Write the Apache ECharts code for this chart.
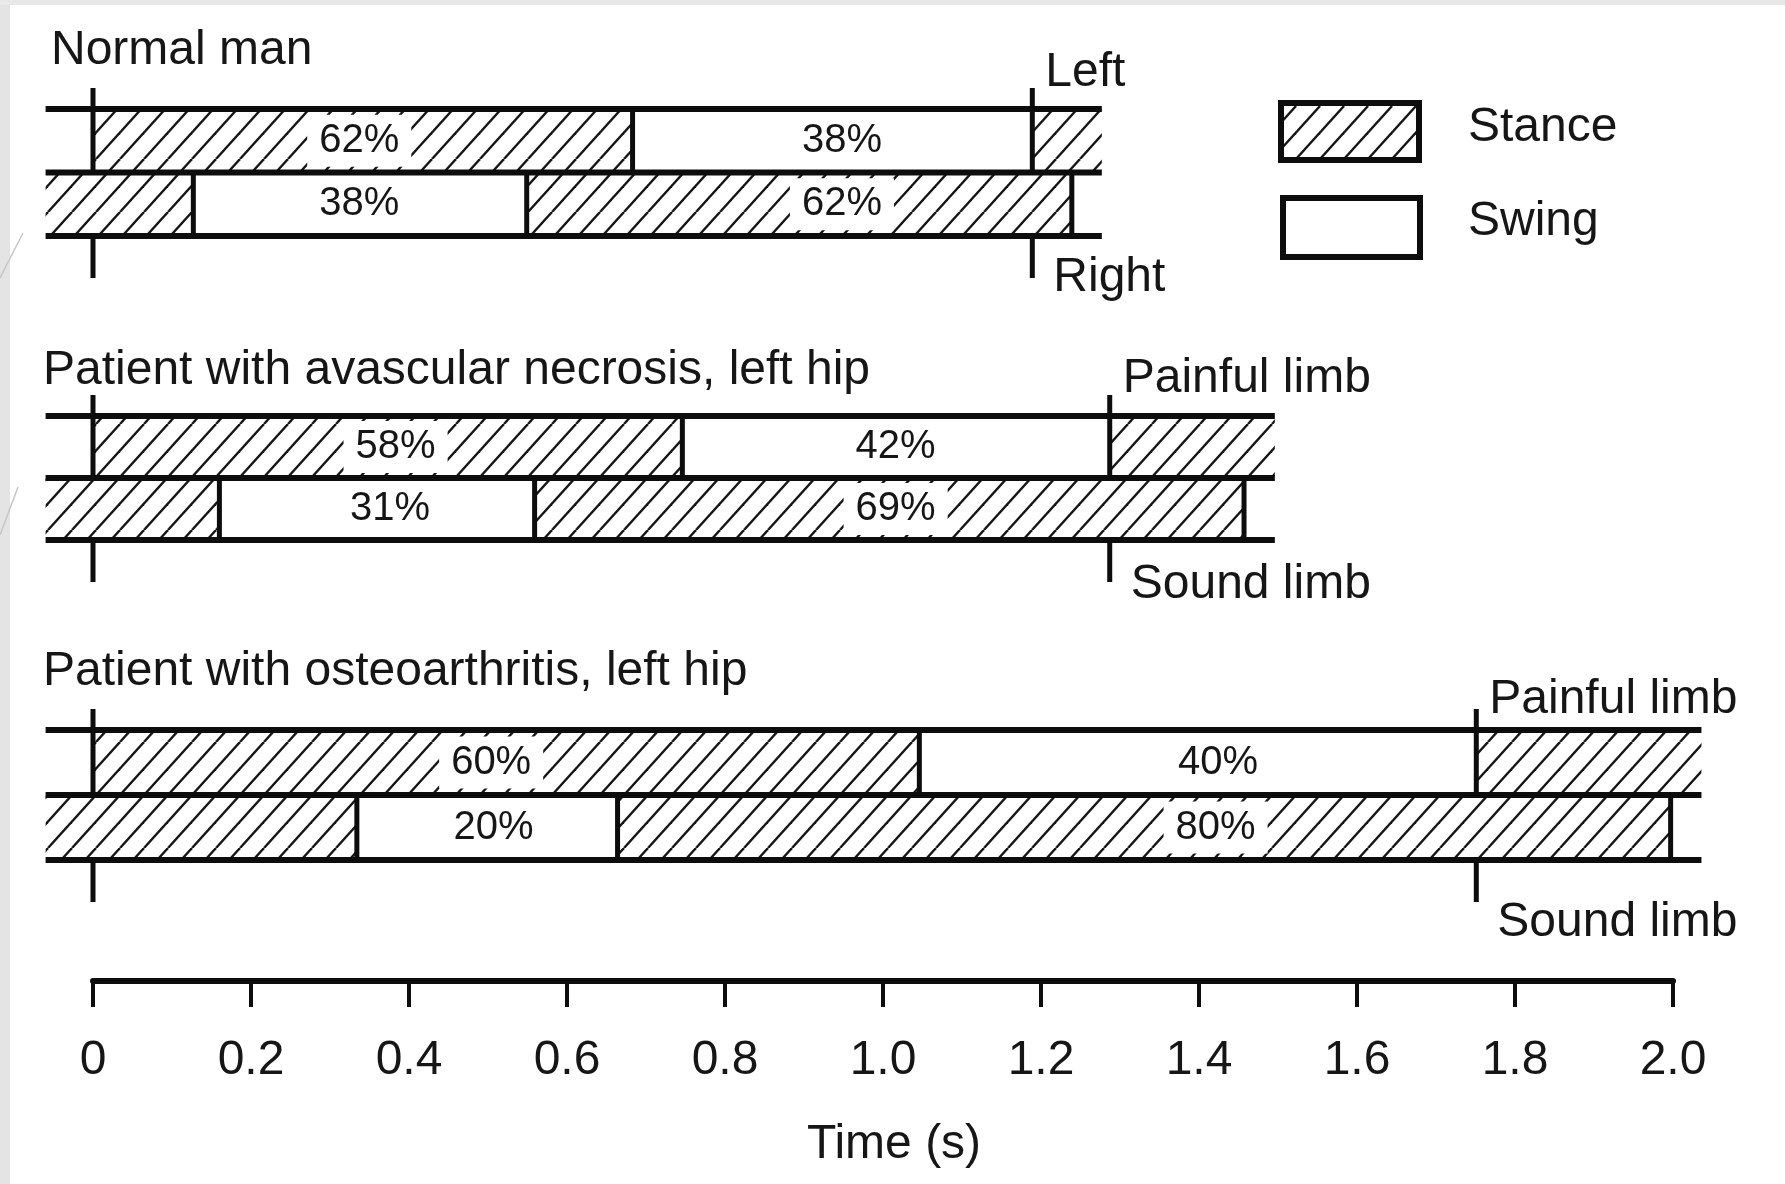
<!DOCTYPE html>
<html>
<head>
<meta charset="utf-8">
<title>Stance and swing phases of the gait cycle</title>
<style>
  html, body { margin: 0; padding: 0; background: #fff; }
  #chart { width: 1785px; height: 1184px; }
</style>
</head>
<body>
<div id="chart"></div>
<script src="https://cdn.jsdelivr.net/npm/echarts@6/dist/echarts.min.js"></script>
<script>
// time axis, seconds
var timeMin = 0, timeMax = 2.0, timeStep = 0.2;

var panelTitles = [
  'Normal man',
  'Patient with avascular necrosis, left hip',
  'Patient with osteoarthritis, left hip'
];
var upperLimb = ['Left', 'Painful limb', 'Painful limb'];
var lowerLimb = ['Right', 'Sound limb', 'Sound limb'];

// phase boundaries (s): stance | swing | stance
var normalUpper    = [0, 0.683, 1.189, 1.277];
var normalLower    = [-0.06, 0.127, 0.549, 1.239];
var necrosisUpper  = [0, 0.746, 1.287, 1.496];
var necrosisLower  = [-0.06, 0.160, 0.559, 1.457];
var arthritisUpper = [0, 1.046, 1.751, 2.036];
var arthritisLower = [-0.06, 0.334, 0.664, 1.997];

// the row lines run from rowLineStart to rowLineEnd
var rowLineStart = -0.06;
var rowLineEnd = [1.277, 1.496, 2.036];
// cycle marks: heel strike at 0 and the next one
var footStrike = [1.189, 1.287, 1.751];

// percentages per row, and where they sit on the time axis
var normalPct    = [['62%', '38%'], ['38%', '62%']];
var necrosisPct  = [['58%', '42%'], ['31%', '69%']];
var arthritisPct = [['60%', '40%'], ['20%', '80%']];
var normalPctAt    = [[0.337, 0.948], [0.337, 0.948]];
var necrosisPctAt  = [[0.383, 1.016], [0.376, 1.016]];
var arthritisPctAt = [[0.504, 1.424], [0.507, 1.421]];

var legendNames = ['Stance', 'Swing'];

// ---- layout / style ----
var FONT = "'Liberation Sans', Arial, Helvetica, sans-serif";
var INK = '#0d0d0d';
var TEXT = '#161616';
var panelTop = [109, 416, 730];
var panelBottom = [236, 540, 860];
var axisY = 981;
// how far the limb names sit above / below the rows
var nameAbove = [36, 37, 30];
var nameBelow = [42, 45, 63];

var panels = [
  { rows: [normalUpper, normalLower], pct: normalPct, pctAt: normalPctAt },
  { rows: [necrosisUpper, necrosisLower], pct: necrosisPct, pctAt: necrosisPctAt },
  { rows: [arthritisUpper, arthritisLower], pct: arthritisPct, pctAt: arthritisPctAt }
];

function makeHatch() {
  // period 24px, lines at ~48 degrees
  var c = document.createElement('canvas');
  c.width = 24; c.height = 53;
  var ctx = c.getContext('2d');
  ctx.strokeStyle = '#151515';
  ctx.lineWidth = 2.4;
  for (var k = -3; k <= 1; k++) {
    ctx.beginPath();
    ctx.moveTo(k * 24, 53);
    ctx.lineTo(k * 24 + 48, 0);
    ctx.stroke();
  }
  return c;
}
var hatch = { image: makeHatch(), repeat: 'repeat' };

function buildItems(p) {
  var pn = panels[p];
  var out = [];
  pn.rows.forEach(function (b, r) {
    out.push({ kind: 'stance', v: [b[0], b[1], r] });
    out.push({ kind: 'swing', v: [b[1], b[2], r] });
    out.push({ kind: 'stance', v: [b[2], b[3], r] });
  });
  pn.rows.forEach(function (b, r) {
    pn.pct[r].forEach(function (txt, i) {
      out.push({ kind: 'pct', v: [pn.pctAt[r][i], pn.pctAt[r][i], r], text: txt });
    });
  });
  // phase borders inside the rows
  out.push({ kind: 'border', v: [pn.rows[0][1], pn.rows[0][1], 0] });
  [1, 2, 3].forEach(function (i) {
    out.push({ kind: 'border', v: [pn.rows[1][i], pn.rows[1][i], 1] });
  });
  [0, 1, 2].forEach(function (k) {
    out.push({ kind: 'hline', v: [rowLineStart, rowLineEnd[p], k] });
  });
  out.push({ kind: 'marker', v: [0, 0, 0] });
  out.push({ kind: 'marker', v: [footStrike[p], footStrike[p], 0] });
  out.push({ kind: 'name', v: [footStrike[p], footStrike[p], 0], text: upperLimb[p] });
  out.push({ kind: 'name', v: [footStrike[p], footStrike[p], 1], text: lowerLimb[p] });
  return out;
}

var items = [buildItems(0), buildItems(1), buildItems(2)];

function makeRender(p) {
  return function (params, api) {
    var it = items[p][params.dataIndex];
    var x0 = api.value(0), x1 = api.value(1), r = api.value(2);
    var h = api.size([0, 1])[1];
    var top = api.coord([x0, 0])[1] - h / 2;
    var a = api.coord([x0, r === 2 ? 0 : r]);
    var b = api.coord([x1, r === 2 ? 0 : r]);
    var lineStyle = { stroke: INK, lineWidth: 5 };
    if (it.kind === 'stance' || it.kind === 'swing') {
      return {
        type: 'rect', z2: 0,
        shape: { x: a[0], y: a[1] - h / 2, width: b[0] - a[0], height: h },
        style: { fill: it.kind === 'stance' ? hatch : '#fff' }
      };
    }
    if (it.kind === 'pct') {
      return {
        type: 'text', z2: 5, x: a[0], y: a[1],
        style: {
          text: it.text, fill: TEXT, font: '40px ' + FONT,
          align: 'center', verticalAlign: 'middle',
          backgroundColor: '#fff', padding: [6, 12]
        }
      };
    }
    if (it.kind === 'border') {
      return {
        type: 'line', z2: 10,
        shape: { x1: a[0], y1: a[1] - h / 2, x2: a[0], y2: a[1] + h / 2 },
        style: lineStyle
      };
    }
    if (it.kind === 'hline') {
      var y = top + r * h;
      return {
        type: 'line', z2: 11,
        shape: { x1: api.coord([x0, 0])[0], y1: y, x2: api.coord([x1, 0])[0], y2: y },
        style: { stroke: INK, lineWidth: 6 }
      };
    }
    if (it.kind === 'marker') {
      return {
        type: 'group',
        children: [
          { type: 'line', z2: 12, shape: { x1: a[0], y1: top - 21, x2: a[0], y2: top + h }, style: lineStyle },
          { type: 'line', z2: 12, shape: { x1: a[0], y1: top + 2 * h, x2: a[0], y2: top + 2 * h + 42 }, style: lineStyle }
        ]
      };
    }
    if (it.kind === 'name') {
      return {
        type: 'text', z2: 5,
        x: a[0] + (r === 0 ? 13 : 21),
        y: r === 0 ? top - nameAbove[p] : top + 2 * h + nameBelow[p],
        style: {
          text: it.text, fill: TEXT, font: '48px ' + FONT,
          align: 'left', verticalAlign: 'middle'
        }
      };
    }
    return null;
  };
}

var chart = echarts.init(document.getElementById('chart'));

var grids = [], xAxes = [], yAxes = [], series = [];
for (var p = 0; p < 3; p++) {
  grids.push({ left: 93, right: 112, top: panelTop[p], height: panelBottom[p] - panelTop[p] });
  yAxes.push({ type: 'category', gridIndex: p, data: ['upper', 'lower'], inverse: true, show: false });
  var ax = { type: 'value', gridIndex: p, min: timeMin, max: timeMax, interval: timeStep };
  if (p < 2) {
    ax.show = false;
  } else {
    Object.assign(ax, {
      position: 'bottom',
      offset: axisY - panelBottom[p],
      name: 'Time (s)',
      nameLocation: 'middle',
      nameGap: 140,
      nameTextStyle: { fontSize: 48, color: TEXT, fontFamily: FONT, padding: [0, 0, 0, 22] },
      axisLine: { show: true, lineStyle: { color: INK, width: 6 } },
      axisTick: { show: true, length: 26, lineStyle: { color: INK, width: 4 } },
      axisLabel: {
        show: true, fontSize: 48, color: TEXT, fontFamily: FONT, margin: 56,
        showMinLabel: true, showMaxLabel: true,
        formatter: function (v) { return v === 0 ? '0' : v.toFixed(1); }
      },
      splitLine: { show: false }
    });
  }
  xAxes.push(ax);
  series.push({
    type: 'custom',
    xAxisIndex: p, yAxisIndex: p,
    clip: false,
    silent: true,
    renderItem: makeRender(p),
    encode: { x: [0, 1], y: 2 },
    data: items[p].map(function (it) { return it.v; })
  });
}

var titleY = [51, 371, 672];
var titleX = [51, 43, 43];
var graphics = [
  { type: 'rect', shape: { x: 0, y: 0, width: 10, height: 1184 }, style: { fill: '#e4e4e4' } },
  { type: 'rect', shape: { x: 0, y: 0, width: 1785, height: 5 }, style: { fill: '#e8e8e8' } },
  { type: 'line', shape: { x1: 0, y1: 278, x2: 23, y2: 233 }, style: { stroke: '#c6c6c6', lineWidth: 1.5 } },
  { type: 'line', shape: { x1: 0, y1: 535, x2: 18, y2: 487 }, style: { stroke: '#c6c6c6', lineWidth: 1.5 } }
];
panelTitles.forEach(function (t, i) {
  graphics.push({
    type: 'text', x: titleX[i], y: titleY[i],
    style: { text: t, fill: TEXT, font: '48px ' + FONT, verticalAlign: 'middle' }
  });
});
// legend
graphics.push(
  { type: 'rect', shape: { x: 1281, y: 103, width: 138, height: 57 },
    style: { fill: hatch, stroke: INK, lineWidth: 6 } },
  { type: 'rect', shape: { x: 1283, y: 198, width: 137, height: 59 },
    style: { fill: '#fff', stroke: INK, lineWidth: 6 } },
  { type: 'text', x: 1468, y: 128, style: { text: legendNames[0], fill: TEXT, font: '48px ' + FONT, verticalAlign: 'middle' } },
  { type: 'text', x: 1468, y: 222, style: { text: legendNames[1], fill: TEXT, font: '48px ' + FONT, verticalAlign: 'middle' } }
);

chart.setOption({
  backgroundColor: '#fff',
  animation: false,
  grid: grids,
  xAxis: xAxes,
  yAxis: yAxes,
  series: series,
  graphic: graphics
});
</script>
</body>
</html>
